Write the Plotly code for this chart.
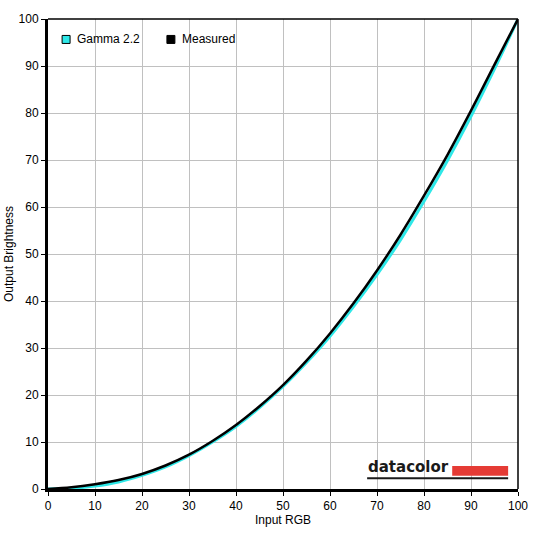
import plotly.graph_objects as go

input_rgb = [0, 5, 10, 15, 20, 25, 30, 35, 40, 45, 50, 55, 60, 65, 70, 75, 80, 85, 90, 95, 100]
gamma_22 = [0, 0.14, 0.63, 1.5, 2.9, 4.7, 7.1, 10.0, 13.3, 17.3, 21.8, 26.9, 32.5, 38.8, 45.6,
            53.0, 61.2, 69.9, 79.3, 89.4, 100]
measured = [0, 0.35, 1.0, 1.9, 3.2, 5.0, 7.3, 10.2, 13.6, 17.6, 22.1, 27.3, 33.1, 39.5, 46.5,
            54.1, 62.4, 71.1, 80.5, 90.3, 100]
series_names = ["Gamma 2.2", "Measured"]
tick_vals = list(range(0, 101, 10))

cyan = "#2ee8e8"
font = dict(family="Liberation Sans, Arial, sans-serif", size=12, color="#000000")

fig = go.Figure()
fig.add_trace(go.Scatter(x=input_rgb, y=gamma_22, mode="lines", name=series_names[0],
                         line=dict(color=cyan, width=3, shape="spline"), showlegend=False, hoverinfo="skip"))
fig.add_trace(go.Scatter(x=input_rgb, y=measured, mode="lines", name=series_names[1],
                         line=dict(color="#000000", width=2.5, shape="spline"), showlegend=False, hoverinfo="skip"))

axis_common = dict(
    range=[0, 100], tickvals=tick_vals, showgrid=True, gridcolor="#c0c0c0", gridwidth=1,
    zeroline=False, showline=True, linecolor="#000000", linewidth=3, automargin=False,
    ticks="outside", ticklen=4, tickcolor="#000000", tickfont=font,
)
fig.update_xaxes(title=dict(text="Input RGB", font=font, standoff=3), **axis_common)
fig.update_yaxes(title=dict(text="Output Brightness", font=font, standoff=3), **axis_common)

# thin frame on top and right
fig.add_shape(type="line", xref="paper", yref="paper", x0=0, x1=1, y0=1, y1=1,
              line=dict(color="#000000", width=1.5))
fig.add_shape(type="line", xref="paper", yref="paper", x0=1, x1=1, y0=0, y1=1,
              line=dict(color="#000000", width=1.5))

# legend drawn by hand (square swatches, tight spacing)
legend_items = [(series_names[0], cyan, 0.030), (series_names[1], "#000000", 0.253)]
for name, color, lx in legend_items:
    fig.add_shape(type="rect", xref="paper", yref="paper", x0=lx, x1=lx + 0.017, y0=0.948, y1=0.965,
                  fillcolor=color, line=dict(color="#000000", width=1))
    fig.add_annotation(x=lx + 0.027, y=0.957, xref="paper", yref="paper", xanchor="left", yanchor="middle",
                       text=name, showarrow=False, font=font)

# datacolor logo
fig.add_annotation(x=0.676, y=0.024, xref="paper", yref="paper", xanchor="left", yanchor="bottom",
                   text="<b>datacolor</b>", showarrow=False,
                   font=dict(family="DejaVu Sans, sans-serif", size=15, color="#1a1a1a"))
fig.add_shape(type="rect", xref="paper", yref="paper", x0=0.86, x1=0.979, y0=0.028, y1=0.049,
              fillcolor="#e53b35", line=dict(width=0))
fig.add_shape(type="line", xref="paper", yref="paper", x0=0.679, x1=0.979, y0=0.023, y1=0.023,
              line=dict(color="#1a1a1a", width=2))

fig.update_layout(
    width=536, height=536,
    margin=dict(l=48, r=18, t=19, b=47),
    paper_bgcolor="#ffffff", plot_bgcolor="#ffffff",
    font=font,
    showlegend=False,
)

fig.write_html("out.html", config={"displayModeBar": False},
               post_script="document.body.style.margin='0px';")
